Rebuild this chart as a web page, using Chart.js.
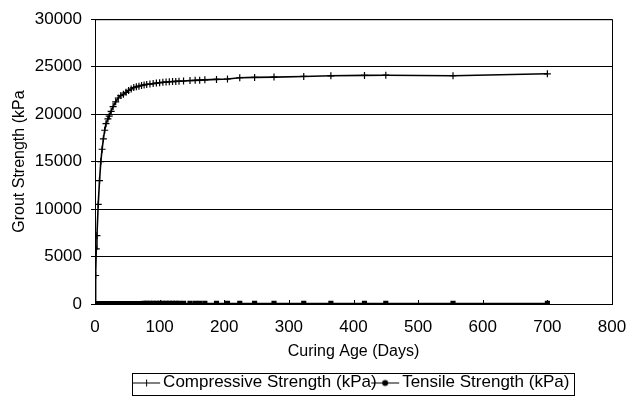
<!DOCTYPE html>
<html>
<head>
<meta charset="utf-8">
<script src="https://cdn.jsdelivr.net/npm/chart.js@4/dist/chart.umd.min.js"></script>
<style>
  html, body { margin: 0; padding: 0; background: #fff; }
  #wrap { width: 626px; height: 401px; }
</style>
</head>
<body>
<div id="wrap"><canvas id="chart" width="626" height="401"></canvas></div>
<script>
// curing age in days
const days = [0, 1, 2, 3, 5, 7, 9, 11, 13, 15, 17, 20, 22, 25, 28, 32, 36, 40, 44, 48,
  52, 56, 60, 64, 68, 72, 76, 80, 85, 90, 95, 100, 105, 110, 115, 120, 125, 130,
  137, 147, 155, 162, 170, 188, 205, 224, 247, 277, 323, 365, 417, 450, 554, 700];

// compressive strength (kPa)
const compressive = [0, 3000, 5800, 7200, 10500, 13000, 15000, 16300, 17400, 18300,
  19000, 19500, 19800, 20300, 20800, 21300, 21700, 21950, 22100, 22300,
  22500, 22650, 22800, 22880, 22950, 23020, 23080, 23130, 23170, 23220,
  23270, 23310, 23350, 23380, 23410, 23430, 23450, 23470,
  23490, 23540, 23560, 23580, 23610, 23660, 23700, 23830, 23870, 23900,
  23970, 24040, 24080, 24100, 24050, 24250];

// tensile strength (kPa) - sits on the axis in the picture
const tensile = [0, 10, 15, 20, 25, 30, 30, 35, 35, 40,
  40, 40, 45, 45, 45, 50, 50, 50, 50, 50,
  55, 55, 55, 55, 55, 55, 60, 60, 60, 60,
  60, 60, 60, 60, 60, 60, 60, 60,
  60, 60, 60, 60, 60, 60, 60, 60, 60, 60,
  60, 60, 60, 60, 60, 60];

const xTicks = [0, 100, 200, 300, 400, 500, 600, 700, 800];
const yTicks = [0, 5000, 10000, 15000, 20000, 25000, 30000];

const FONT = '"Liberation Sans", Arial, sans-serif';

function legendIcon(kind) {
  const c = document.createElement('canvas');
  c.width = 30; c.height = 12;
  const g = c.getContext('2d');
  g.strokeStyle = '#000';
  g.fillStyle = '#000';
  g.lineWidth = 1;
  g.beginPath(); g.moveTo(1, 6.5); g.lineTo(29, 6.5); g.stroke();
  if (kind === 'cross') {
    g.beginPath(); g.moveTo(15.5, 3); g.lineTo(15.5, 10); g.stroke();
  } else {
    g.beginPath(); g.arc(15, 6.5, 3, 0, Math.PI * 2); g.fill();
  }
  return c;
}
const icons = [legendIcon('cross'), legendIcon('dot')];

const framePlugin = {
  id: 'frame',
  afterDraw(chart) {
    const { ctx, chartArea: a, scales } = chart;
    ctx.save();
    ctx.strokeStyle = '#000';
    ctx.lineWidth = 1;
    ctx.strokeRect(a.left + 0.5, a.top + 0.5, a.right - a.left, a.bottom - a.top);
    // small inward ticks on x axis
    xTicks.forEach(v => {
      const px = Math.round(scales.x.getPixelForValue(v)) + 0.5;
      ctx.beginPath(); ctx.moveTo(px, a.bottom); ctx.lineTo(px, a.bottom - 4); ctx.stroke();
    });
    // box round the legend
    const boxes = chart.legend.legendHitBoxes;
    if (boxes && boxes.length) {
      const l = Math.min(...boxes.map(b => b.left)) - 6;
      const r = Math.max(...boxes.map(b => b.left + b.width)) + 4;
      const t = Math.min(...boxes.map(b => b.top)) - 1;
      const bt = Math.min(Math.max(...boxes.map(b => b.top + b.height)) + 4, chart.height - 2);
      ctx.strokeRect(Math.round(l) + 0.5, Math.round(t) + 0.5, Math.round(r - l), Math.round(bt - t));
    }
    ctx.restore();
  }
};

new Chart(document.getElementById('chart'), {
  type: 'scatter',
  data: {
    datasets: [{
      label: 'Compressive Strength (kPa)',
      data: days.map((d, i) => ({ x: d, y: compressive[i] })),
      showLine: true,
      borderColor: '#000',
      backgroundColor: '#000',
      borderWidth: 1.6,
      pointStyle: 'cross',
      pointRadius: 3.5,
      pointBorderWidth: 1.2,
      tension: 0
    }, {
      label: 'Tensile Strength (kPa)',
      data: days.map((d, i) => ({ x: d, y: tensile[i] })),
      showLine: true,
      borderColor: '#000',
      backgroundColor: '#000',
      borderWidth: 1.6,
      pointStyle: 'rect',
      pointRadius: 2.5,
      tension: 0
    }]
  },
  options: {
    responsive: false,
    animation: false,
    layout: { padding: { left: 10, right: 0, top: 15, bottom: 0 } },
    plugins: {
      tooltip: { enabled: false },
      legend: {
        position: 'bottom',
        fullSize: false,
        labels: {
          font: { family: FONT, size: 17 },
          color: '#000',
          usePointStyle: true,
          padding: 0,
          generateLabels(chart) {
            return chart.data.datasets.map((ds, i) => ({
              text: ds.label,
              pointStyle: icons[i],
              fillStyle: '#000',
              strokeStyle: '#000',
              lineWidth: 0,
              datasetIndex: i,
              hidden: false,
              fontColor: '#000'
            }));
          }
        }
      }
    },
    scales: {
      x: {
        type: 'linear',
        min: 0,
        max: 800,
        afterBuildTicks: s => { s.ticks = xTicks.map(v => ({ value: v })); },
        afterFit: s => { s.height = 70; s.paddingRight = 14; s.paddingLeft = 0; },
        grid: { display: false, drawTicks: false },
        border: { color: '#000', width: 1 },
        ticks: { font: { family: FONT, size: 17 }, color: '#000', padding: 13, callback: v => String(v) },
        title: {
          display: true,
          text: 'Curing Age (Days)',
          font: { family: FONT, size: 16 },
          color: '#000',
          padding: { top: 0, bottom: 13 }
        }
      },
      y: {
        min: 0,
        max: 30000,
        afterBuildTicks: s => { s.ticks = yTicks.map(v => ({ value: v })); },
        afterFit: s => { s.width = 85; },
        grid: { color: '#000', lineWidth: 1, tickLength: 4 },
        border: { color: '#000', width: 1 },
        ticks: { font: { family: FONT, size: 17 }, color: '#000', padding: 9, callback: v => String(v) },
        title: {
          display: true,
          text: 'Grout Strength (kPa',
          font: { family: FONT, size: 16 },
          color: '#000',
          padding: { top: 0, bottom: 3 }
        }
      }
    }
  },
  plugins: [framePlugin]
});
</script>
</body>
</html>
